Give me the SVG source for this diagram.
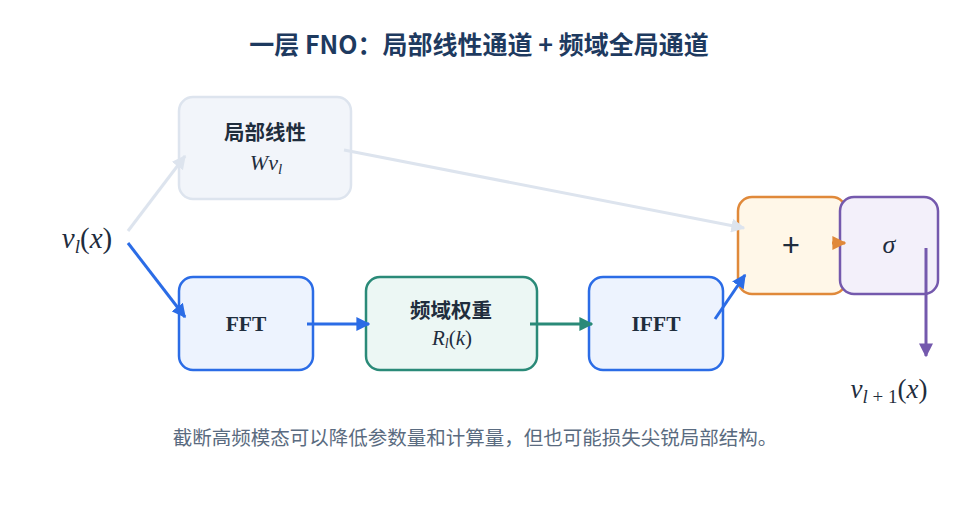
<svg xmlns="http://www.w3.org/2000/svg" width="958" height="528" viewBox="0 0 958 528">
<style>
.title{font-family:"Noto Sans CJK SC","Noto Sans",sans-serif;font-size:25px;font-weight:700;fill:#1e3a5f;text-anchor:middle}
.lbl{font-family:"Noto Sans CJK SC","Noto Sans",sans-serif;font-size:20.5px;font-weight:700;fill:#1f2d3d;text-anchor:middle}
.math{font-family:"Liberation Serif","DejaVu Serif",serif;font-style:italic;fill:#1f2d3d;text-anchor:middle}
.up{font-style:normal}
.serifb{font-family:"Liberation Serif","DejaVu Serif",serif;font-weight:700;font-size:21.5px;fill:#1f2d3d;text-anchor:middle}
.cap{font-family:"Noto Sans CJK SC","Noto Sans",sans-serif;font-size:19.5px;fill:#5a6b80;text-anchor:middle}
.box{stroke-width:2.5}
.conn{fill:none;stroke-width:3}
</style>
<defs>
<marker id="aGray" markerUnits="userSpaceOnUse" markerWidth="14" markerHeight="14" viewBox="0 0 10 10" refX="9" refY="5" orient="auto"><path d="M0,0 L10,5 L0,10 z" fill="#dde4ee"/></marker>
<marker id="aBlue" markerUnits="userSpaceOnUse" markerWidth="14" markerHeight="14" viewBox="0 0 10 10" refX="9" refY="5" orient="auto"><path d="M0,0 L10,5 L0,10 z" fill="#2b6ce6"/></marker>
<marker id="aTeal" markerUnits="userSpaceOnUse" markerWidth="14" markerHeight="14" viewBox="0 0 10 10" refX="9" refY="5" orient="auto"><path d="M0,0 L10,5 L0,10 z" fill="#2a8a78"/></marker>
<marker id="aOrange" markerUnits="userSpaceOnUse" markerWidth="14" markerHeight="14" viewBox="0 0 10 10" refX="9" refY="5" orient="auto"><path d="M0,0 L10,5 L0,10 z" fill="#e0893a"/></marker>
<marker id="aPurple" markerUnits="userSpaceOnUse" markerWidth="14" markerHeight="14" viewBox="0 0 10 10" refX="9" refY="5" orient="auto"><path d="M0,0 L10,5 L0,10 z" fill="#7459ad"/></marker>
</defs>
<rect width="958" height="528" fill="#ffffff"/>
<text class="title" x="479" y="54">一层 FNO：局部线性通道 + 频域全局通道</text>

<g id="input">
<text class="math" x="87" y="248" font-size="29">v<tspan font-size="19" dy="5">l</tspan><tspan class="up" dy="-5">(</tspan>x<tspan class="up">)</tspan></text>
</g>

<g id="local">
<rect class="box" x="179" y="97" width="172" height="102" rx="14" fill="#f2f5fa" stroke="#dde4ee"/>
<text class="lbl" x="265" y="140">局部线性</text>
<text class="math" x="266" y="170" font-size="22">Wv<tspan font-size="15" dy="4">l</tspan></text>
</g>

<g id="fft">
<rect class="box" x="179" y="277" width="134" height="93" rx="14" fill="#edf3fe" stroke="#2b6ce6"/>
<text class="serifb" x="246" y="331">FFT</text>
</g>

<g id="freq">
<rect class="box" x="366" y="277" width="171" height="93" rx="14" fill="#ecf7f4" stroke="#2a8a78"/>
<text class="lbl" x="451" y="318">频域权重</text>
<text class="math" x="452" y="345" font-size="21">R<tspan font-size="14" dy="3">l</tspan><tspan class="up" dy="-3">(</tspan>k<tspan class="up">)</tspan></text>
</g>

<g id="ifft">
<rect class="box" x="589" y="277" width="134" height="93" rx="14" fill="#edf3fe" stroke="#2b6ce6"/>
<text class="serifb" x="656" y="331">IFFT</text>
</g>

<g id="plus">
<rect class="box" x="738" y="197" width="108" height="97" rx="14" fill="#fff7e8" stroke="#e0893a"/>
<text x="791" y="257" font-family="'Noto Sans','DejaVu Sans',sans-serif" font-size="32" fill="#1f2d3d" text-anchor="middle">+</text>
</g>

<g id="sigma">
<rect class="box" x="840" y="197" width="98" height="97" rx="14" fill="#f3f0fa" stroke="#7459ad"/>
<text class="math" x="889" y="253" font-size="26">σ</text>
</g>

<g id="output">
<text class="math" x="889" y="398" font-size="27">v<tspan font-size="19" dy="5">l</tspan><tspan class="up" font-size="19"> + 1</tspan><tspan class="up" dy="-5">(</tspan>x<tspan class="up">)</tspan></text>
</g>

<g id="connectors">
<line class="conn" x1="128" y1="231" x2="185" y2="156" stroke="#dde4ee" marker-end="url(#aGray)"/>
<line class="conn" x1="128" y1="243" x2="185" y2="317" stroke="#2b6ce6" marker-end="url(#aBlue)"/>
<line class="conn" x1="344" y1="150" x2="744" y2="228" stroke="#dde4ee" marker-end="url(#aGray)"/>
<line class="conn" x1="307" y1="324" x2="369" y2="324" stroke="#2b6ce6" marker-end="url(#aBlue)"/>
<line class="conn" x1="530" y1="324" x2="592" y2="324" stroke="#2a8a78" marker-end="url(#aTeal)"/>
<line class="conn" x1="715" y1="319" x2="745" y2="275" stroke="#2b6ce6" marker-end="url(#aBlue)"/>
<line class="conn" x1="832" y1="243" x2="845" y2="243" stroke="#e0893a" marker-end="url(#aOrange)"/>
<line class="conn" x1="926" y1="248" x2="926" y2="356" stroke="#7459ad" marker-end="url(#aPurple)"/>
</g>

<text class="cap" x="475" y="445">截断高频模态可以降低参数量和计算量，但也可能损失尖锐局部结构。</text>
</svg>
